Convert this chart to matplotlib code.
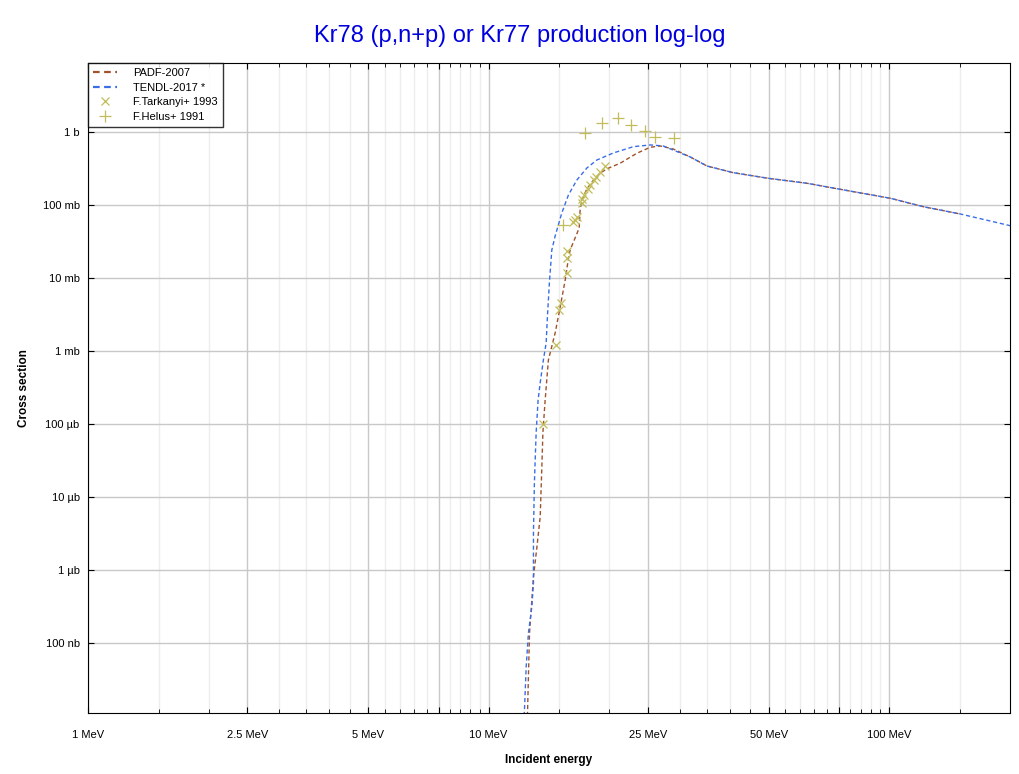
import matplotlib
matplotlib.use("Agg")
import matplotlib.pyplot as plt
from matplotlib.ticker import FixedLocator, NullFormatter
import numpy as np

plt.rcParams['font.family'] = ['Liberation Sans', 'DejaVu Sans']

# TENDL-2017 curve (MeV, barn)
tendl_e = [12.27, 12.41, 12.57, 12.82, 12.94, 12.94, 13.01, 13.14, 13.29, 13.45,
           13.70, 13.92, 14.02, 14.18, 14.38, 14.66, 15.23, 15.82, 16.61, 17.59,
           18.63, 20.49, 22.99, 25.31, 27.28, 30.08, 31.85, 35.07, 40.77, 49.88,
           62.40, 75.43, 100.6, 121.6, 150.4, 200.5]
tendl_xs = [1.0e-8, 4.69e-8, 1.37e-7, 3.11e-7, 6.64e-7, 3.21e-6, 1.56e-5, 7.53e-5, 2.13e-4, 3.65e-4,
            7.53e-4, 1.29e-3, 2.92e-3, 8.54e-3, 0.0242, 0.0376, 0.0777, 0.137, 0.220, 0.321,
            0.413, 0.516, 0.629, 0.664, 0.643, 0.516, 0.455, 0.342, 0.277, 0.232,
            0.198, 0.164, 0.1236, 0.0948, 0.0753, 0.0520]

# PADF-2007 curve
padf_e = [12.50, 12.65, 12.94, 13.20, 13.45, 13.58, 13.66, 13.84, 14.10, 14.66,
          15.09, 15.53, 15.80, 15.98, 16.44, 16.83, 16.92, 17.09, 17.59, 18.27,
          18.98, 19.88, 21.30, 23.45, 25.31, 26.81, 28.88, 31.85, 35.07, 40.77,
          49.88, 62.40, 75.43, 100.6, 121.6, 150.4]
padf_xs = [1.0e-8, 1.37e-7, 8.02e-7, 2.07e-6, 5.32e-6, 2.58e-5, 7.53e-5, 2.13e-4, 7.53e-4, 1.77e-3,
           4.01e-3, 9.39e-3, 0.0177, 0.0242, 0.0353, 0.0484, 0.0854, 0.117, 0.166, 0.220,
           0.274, 0.318, 0.373, 0.511, 0.617, 0.643, 0.585, 0.455, 0.342, 0.277,
           0.232, 0.198, 0.164, 0.1236, 0.0948, 0.0753]

# F.Tarkanyi+ 1993
tark_e = [13.70, 14.74, 14.96, 15.17, 15.73, 15.73, 15.73, 16.26, 16.44, 16.63,
          17.09, 17.09, 17.27, 17.67, 17.88, 18.29, 18.50, 18.93, 19.54]
tark_xs = [1.0e-4, 1.21e-3, 3.59e-3, 4.55e-3, 0.0116, 0.0186, 0.0237, 0.0585, 0.0623, 0.0685,
           0.1075, 0.1208, 0.137, 0.163, 0.188, 0.220, 0.242, 0.283, 0.342]

# F.Helus+ 1991
helus_e = [15.32, 17.42, 19.20, 21.05, 22.69, 24.59, 26.05, 29.05]
helus_xs = [0.0524, 0.969, 1.328, 1.555, 1.247, 1.032, 0.854, 0.828]

x_major = [1, 2.5, 5, 7.5, 10, 25, 50, 75, 100]
x_labels = {1: '1 MeV', 2.5: '2.5 MeV', 5: '5 MeV', 10: '10 MeV',
            25: '25 MeV', 50: '50 MeV', 100: '100 MeV'}
x_minor = [1.5, 2, 3, 3.5, 4, 4.5, 5.5, 6, 6.5, 7, 8, 8.5, 9, 9.5,
           15, 20, 30, 35, 40, 45, 55, 60, 65, 70, 80, 85, 90, 95, 150]
y_ticks = [1e-7, 1e-6, 1e-5, 1e-4, 1e-3, 1e-2, 1e-1, 1]
y_labels = ['100 nb', '1 µb', '10 µb', '100 µb', '1 mb', '10 mb', '100 mb', '1 b']

fig, ax = plt.subplots(figsize=(10.2, 7.74), dpi=100)
fig.subplots_adjust(left=0.0863, right=0.990, top=0.9186, bottom=0.0788)

ax.set_xscale('log')
ax.set_yscale('log')
ax.set_xlim(1, 200)
ax.set_ylim(1.1e-8, 8.8)

ax.plot(padf_e, padf_xs, ls=(0, (3, 2)), color='#a0522d', lw=1.0, label='PADF-2007')
ax.plot(tendl_e, tendl_xs, ls=(0, (3, 2)), color='#3a6ee8', lw=1.0, label='TENDL-2017 *')
ax.plot(tark_e, tark_xs, ls='none', marker='x', ms=6, mew=0.9, color='#c2bd5a',
        label='F.Tarkanyi+ 1993')
ax.plot(helus_e, helus_xs, ls='none', marker='+', ms=8, mew=0.9, color='#c2bd5a',
        label='F.Helus+ 1991')

ax.xaxis.set_major_locator(FixedLocator(x_major))
ax.xaxis.set_minor_locator(FixedLocator(x_minor))
ax.set_xticklabels([x_labels.get(v, '') for v in x_major])
ax.xaxis.set_minor_formatter(NullFormatter())
ax.yaxis.set_major_locator(FixedLocator(y_ticks))
ax.set_yticklabels(y_labels)
ax.yaxis.set_minor_locator(FixedLocator([]))

ax.grid(which='major', color='#c8c8c8', lw=1.0)
ax.grid(which='minor', axis='x', color='#ededed', lw=1.0)
ax.set_axisbelow(True)

ax.tick_params(which='both', direction='in', top=True, right=True, labelsize=8)
ax.tick_params(which='major', length=4)
ax.tick_params(which='minor', length=3)
ax.tick_params(axis='x', pad=12)
ax.tick_params(axis='y', pad=6)

fig.suptitle('Kr78 (p,n+p) or Kr77 production log-log', color='#0000dd', fontsize=17,
             x=0.51, y=0.953, va='center')
ax.set_xlabel('Incident energy', fontweight='bold', fontsize=8.5, labelpad=10)
ax.set_ylabel('Cross section', fontweight='bold', fontsize=8.5, labelpad=9)

leg = ax.legend(loc='upper left', fontsize=8, frameon=True, fancybox=False,
                borderaxespad=0, handlelength=2.2, borderpad=0.45, labelspacing=0.42,
                handletextpad=1.4)
leg.get_frame().set_edgecolor('black')
leg.get_frame().set_linewidth(1.0)
for h in leg.get_lines()[:2]:
    h.set_linewidth(1.6)

plt.savefig('out.png', dpi=100)
